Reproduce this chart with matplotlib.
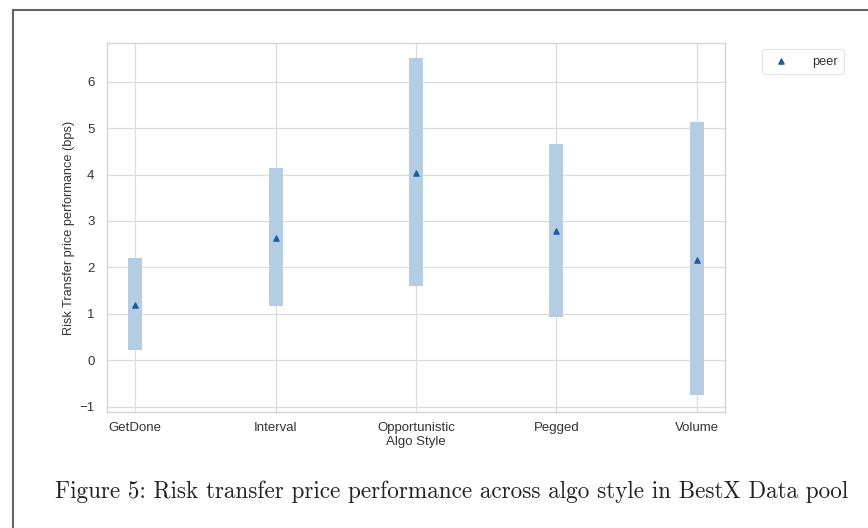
import matplotlib.pyplot as plt
import numpy as np
from matplotlib.lines import Line2D

# algo styles and their peer range (low / high) plus peer mid value, in bps
algo_styles = ["GetDone", "Interval", "Opportunistic", "Pegged", "Volume"]
range_low = [0.22, 1.17, 1.60, 0.93, -0.75]
range_high = [2.20, 4.15, 6.50, 4.65, 5.13]
peer_value = [1.20, 2.63, 4.03, 2.78, 2.15]

plt.rcParams['font.family'] = ['Liberation Sans', 'DejaVu Sans']

fig = plt.figure(figsize=(8.68, 5.28), dpi=100)
ax = fig.add_axes([107 / 868, 1 - 412 / 528, 618 / 868, 369 / 528])

x = np.arange(len(algo_styles))
low = np.array(range_low)
high = np.array(range_high)

# shaded peer range per algo style
ax.bar(x, high - low, bottom=low, width=0.1, color="#b5cde2", zorder=2)
ax.scatter(x, peer_value, marker="^", s=14, color="#1f5c9c", zorder=3, label="peer")

ax.set_xlim(-0.2, 4.2)
ax.set_ylim(-1.11, 6.83)
ax.set_xticks(x)
ax.set_xticklabels(algo_styles)
ax.set_yticks(range(-1, 7))
ax.tick_params(labelsize=9.5, colors="#333333", length=0)
ax.tick_params(axis="x", pad=7)
ax.tick_params(axis="y", pad=9)
ax.set_xlabel("Algo Style", fontsize=9.5, color="#333333", labelpad=2)
ax.set_ylabel("Risk Transfer price performance (bps)", fontsize=9.2, color="#333333", labelpad=3)

ax.grid(True, color="#dcdcdc", linewidth=0.9, zorder=0)
ax.set_axisbelow(True)
for spine in ax.spines.values():
    spine.set_color("#d4d4d4")
    spine.set_linewidth(1.0)

leg = ax.legend(loc="upper left", bbox_to_anchor=(1.05, 1.0), fontsize=9.2,
                frameon=True, handletextpad=1.4, borderpad=0.5, markerscale=1.0)
leg.get_frame().set_edgecolor("#dddddd")
leg.get_frame().set_linewidth(0.8)
for t in leg.get_texts():
    t.set_color("#333333")

fig.text(55 / 868, 1 - 492 / 528,
         "Figure 5: Risk transfer price performance across algo style in BestX Data pool",
         fontfamily="cmr10", fontsize=16.7, color="#222222", va="center", ha="left")

# page frame lines at top and left
fig.add_artist(Line2D([13 / 868, 1.0], [1 - 10 / 528, 1 - 10 / 528],
                      transform=fig.transFigure, color="#666666", linewidth=1.5))
fig.add_artist(Line2D([13 / 868, 13 / 868], [0.0, 1 - 10 / 528],
                      transform=fig.transFigure, color="#666666", linewidth=1.5))

fig.savefig("out.png", dpi=100)
